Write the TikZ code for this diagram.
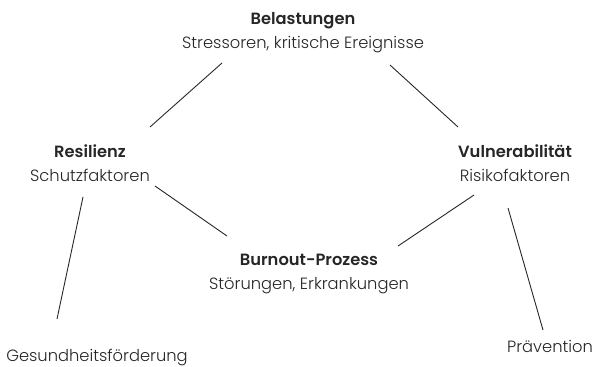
\documentclass[tikz,border=0pt]{standalone}
\usepackage{fontspec}
\setmainfont{Poppins Light}[BoldFont={Poppins SemiBold}]
\tikzset{
  factor/.style={align=center,inner sep=0pt,font=\fontsize{16.3}{24}\selectfont,text=black!85},
  link/.style={line width=0.9pt,color=black!85}
}

\begin{document}
\begin{tikzpicture}[x=1pt,y=-1pt]
\useasboundingbox (0,0) rectangle (595,367);

\node[factor] (bel) at (303,33) {\textbf{Belastungen}\\Stressoren, kritische Ereignisse};
\node[factor] (res) at (90,163) {\textbf{Resilienz}\\Schutzfaktoren};
\node[factor] (vul) at (515,163) {\textbf{Vulnerabilität}\\Risikofaktoren};
\node[factor] (bur) at (309,274) {\textbf{Burnout-Prozess}\\Störungen, Erkrankungen};
\node[factor] (ges) at (97,358) {Gesundheitsförderung};
\node[factor] (pra) at (550,346) {Prävention};

% \draw[link] (bel) -- (res);
\draw[link] ([shift={(-81,30)}]bel.center) -- ([shift={(60,-36)}]res.center);
\draw[link] ([shift={(87,32)}]bel.center) -- ([shift={(-57,-36)}]vul.center);
\draw[link] ([shift={(65,23)}]res.center) -- ([shift={(-82,-38)}]bur.center);
\draw[link] ([shift={(-41,32)}]vul.center) -- ([shift={(89,-28)}]bur.center);
\draw[link] ([shift={(-7,34)}]res.center) -- ([shift={(-40,-39)}]ges.center);
\draw[link] ([shift={(-7,45)}]vul.center) -- ([shift={(-7,-16)}]pra.center);

\end{tikzpicture}
\end{document}
